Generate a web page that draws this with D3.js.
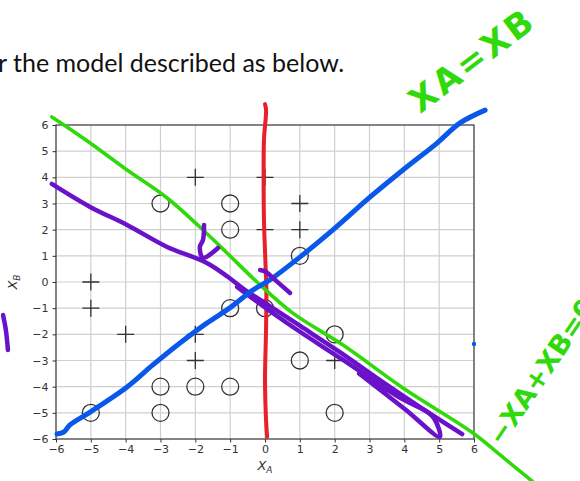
<!DOCTYPE html>
<html>
<head>
<meta charset="utf-8">
<script src="https://cdn.jsdelivr.net/npm/d3@7"></script>
<style>
  html, body { margin: 0; padding: 0; background: #fff; }
  svg { display: block; }
</style>
</head>
<body>
<svg id="chart" width="580" height="481"></svg>
<script>
// ---- data -------------------------------------------------------------
const xTickValues = [-6, -5, -4, -3, -2, -1, 0, 1, 2, 3, 4, 5, 6];
const yTickValues = [-6, -5, -4, -3, -2, -1, 0, 1, 2, 3, 4, 5, 6];

// class "+" samples (x_A, x_B)
const plusPoints = [[-2, 4], [0, 4], [1, 3], [0, 2], [1, 2], [-5, 0], [-5, -1],
                    [-4, -2], [-2, -2], [-2, -3], [2, -3]];
// class "o" samples (x_A, x_B)
const circlePoints = [[-3, 3], [-1, 3], [-1, 2], [1, 1], [-1, -1], [0, -1], [2, -2],
                      [1, -3], [-3, -4], [-2, -4], [-1, -4], [-5, -5], [-3, -5], [2, -5]];

// pen strokes drawn over the plot, in data units
const redStroke = [[0, 6.80], [0.03, 6.57], [-0.03, 5.43], [-0.04, 3.90], [-0.03, 2.37],
                   [0.01, 0.84], [0.04, -0.31], [0.03, -1.83], [0, -3.75], [0.03, -5.27], [0.06, -5.92]];
const greenStroke = [[-6.12, 6.31], [-5.60, 5.85], [-5.02, 5.31], [-3.96, 4.28], [-2.81, 3.21],
                     [-1.87, 2.10], [-1.09, 1.11], [-0.23, 0.00], [0.80, -1.19], [2.24, -2.41],
                     [3.96, -4.05], [5.97, -5.77], [6.75, -6.61], [7.52, -7.45], [8.04, -8.02]];
const blueStroke = [[-5.97, -5.81], [-5.77, -5.73], [-5.60, -5.46], [-5.02, -4.97], [-3.96, -4.01],
                    [-3.22, -3.17], [-2.44, -2.33], [-1.67, -1.57], [-1.01, -0.99], [-0.35, -0.31],
                    [0.14, 0.08], [1.01, 0.96], [1.95, 1.99], [3.02, 3.25], [3.96, 4.28],
                    [4.94, 5.31], [5.60, 6.08], [6.32, 6.57]];
const blueDot = [[6.0, -2.37]];
const purpleStrokeA = [[-6.12, 3.75], [-5.02, 2.87], [-3.96, 2.18], [-2.81, 1.34], [-1.67, 0.73],
                       [-1.06, 0.19], [-0.57, -0.31], [0.14, -0.92], [1.01, -1.68], [2.15, -2.68],
                       [3.30, -3.75], [4.45, -4.78], [5.66, -5.81]];
const purpleStrokeB = [[-0.80, -0.19], [-0.14, -0.84], [0.80, -1.72], [2.24, -2.98], [3.88, -4.43],
                       [4.80, -5.12], [5.02, -5.92], [4.02, -4.86], [2.70, -3.50]];
const purpleHook = [[-1.75, 2.18], [-1.78, 1.61], [-1.87, 1.34], [-1.78, 0.92], [-1.35, 1.30]];
const purpleTick = [[-0.14, 0.46], [0.03, 0.38], [0.29, 0.08], [0.72, -0.42]];
const purpleMargin = [[-7.52, -1.26], [-7.44, -1.83], [-7.38, -2.60]];

// ---- layout -----------------------------------------------------------
const svg = d3.select("#chart");
const plot = { left: 56, right: 474, top: 125, bottom: 439 };

const x = d3.scaleLinear().domain([-6, 6]).range([plot.left, plot.right]);
const y = d3.scaleLinear().domain([-6, 6]).range([plot.bottom, plot.top]);

const fmt = d => d < 0 ? "\u2212" + Math.abs(d) : String(d);
const axisFont = "'DejaVu Sans', sans-serif";

// slide sentence above the figure
const title = svg.append("text")
  .attr("y", 72)
  .attr("font-family", "Lato, 'Open Sans', sans-serif")
  .attr("font-size", 25)
  .attr("fill", "#111")
  .text("for the model described as below.");
const prefixWidth = title.node().getSubStringLength(0, 4);
title.attr("x", 13 - prefixWidth);

// grid
const grid = svg.append("g").attr("stroke", "#cfcfcf").attr("stroke-width", 1.2);
grid.selectAll("line.gx").data(xTickValues).join("line")
  .attr("x1", d => x(d)).attr("x2", d => x(d))
  .attr("y1", plot.top).attr("y2", plot.bottom);
grid.selectAll("line.gy").data(yTickValues).join("line")
  .attr("y1", d => y(d)).attr("y2", d => y(d))
  .attr("x1", plot.left).attr("x2", plot.right);

// axes
const xAxis = svg.append("g")
  .attr("transform", `translate(0,${plot.bottom})`)
  .call(d3.axisBottom(x).tickValues(xTickValues).tickFormat(fmt).tickSize(3.5).tickPadding(3));
const yAxis = svg.append("g")
  .attr("transform", `translate(${plot.left},0)`)
  .call(d3.axisLeft(y).tickValues(yTickValues).tickFormat(fmt).tickSize(3.5).tickPadding(4));
[xAxis, yAxis].forEach(g => {
  g.select(".domain").remove();
  g.selectAll(".tick line").attr("stroke", "#333").attr("stroke-width", 1);
  g.selectAll(".tick text").attr("fill", "#333").attr("font-family", axisFont).attr("font-size", 11);
});

// frame
svg.append("rect")
  .attr("x", plot.left).attr("y", plot.top)
  .attr("width", plot.right - plot.left).attr("height", plot.bottom - plot.top)
  .attr("fill", "none").attr("stroke", "#333").attr("stroke-width", 1.1);

// axis labels: x_A and x_B
const xl = svg.append("text")
  .attr("x", x(0)).attr("y", 470)
  .attr("text-anchor", "middle")
  .attr("font-family", axisFont).attr("font-size", 13).attr("fill", "#333");
xl.append("tspan").attr("font-style", "italic").text("X");
xl.append("tspan").attr("font-style", "italic").attr("font-size", 9).attr("dy", 3).text("A");

const yl = svg.append("text")
  .attr("transform", `translate(17,${y(0)}) rotate(-90)`)
  .attr("text-anchor", "middle")
  .attr("font-family", axisFont).attr("font-size", 13).attr("fill", "#333");
yl.append("tspan").attr("font-style", "italic").text("X");
yl.append("tspan").attr("font-style", "italic").attr("font-size", 9).attr("dy", 3).text("B");

// samples
const marks = svg.append("g").attr("stroke", "#333").attr("stroke-width", 1.3).attr("fill", "none");
marks.selectAll("circle").data(circlePoints).join("circle")
  .attr("cx", d => x(d[0])).attr("cy", d => y(d[1])).attr("r", 8.5);
marks.selectAll("path.plus").data(plusPoints).join("path")
  .attr("class", "plus")
  .attr("d", d => {
    const cx = x(d[0]), cy = y(d[1]), s = 8.5;
    return `M${cx - s},${cy}H${cx + s}M${cx},${cy - s}V${cy + s}`;
  });

// pen strokes
const pen = d3.line().x(d => x(d[0])).y(d => y(d[1])).curve(d3.curveCatmullRom.alpha(0.5));
const ink = svg.append("g").attr("fill", "none")
  .attr("stroke-linecap", "round").attr("stroke-linejoin", "round");

const RED = "#e8202a", GREEN = "#30d90a", BLUE = "#0a58ea", PURPLE = "#6a12c9";

ink.append("path").datum(redStroke).attr("d", pen).attr("stroke", RED).attr("stroke-width", 4);
ink.append("path").datum(purpleStrokeA).attr("d", pen).attr("stroke", PURPLE).attr("stroke-width", 4.5);
ink.append("path").datum(purpleStrokeB).attr("d", pen).attr("stroke", PURPLE).attr("stroke-width", 4.5);
ink.append("path").datum(purpleMargin).attr("d", pen).attr("stroke", PURPLE).attr("stroke-width", 4.5);
ink.append("path").datum(greenStroke).attr("d", pen).attr("stroke", GREEN).attr("stroke-width", 3.6);
ink.append("path").datum(blueStroke).attr("d", pen).attr("stroke", BLUE).attr("stroke-width", 5);
ink.append("path").datum(purpleHook).attr("d", pen).attr("stroke", PURPLE).attr("stroke-width", 4.5);
ink.append("path").datum(purpleTick).attr("d", pen).attr("stroke", PURPLE).attr("stroke-width", 4.5);
ink.selectAll("circle.dot").data(blueDot).join("circle")
  .attr("class", "dot")
  .attr("cx", d => x(d[0])).attr("cy", d => y(d[1])).attr("r", 2.2)
  .attr("fill", BLUE).attr("stroke", "none");

// handwritten notes
svg.append("text")
  .attr("transform", "translate(472,60) rotate(-37)")
  .attr("text-anchor", "middle").attr("dominant-baseline", "central")
  .attr("font-family", "'DejaVu Sans', sans-serif").attr("font-weight", "bold")
  .attr("font-size", 34).attr("letter-spacing", 3)
  .attr("fill", GREEN)
  .text("XA=XB");

svg.append("text")
  .attr("transform", "translate(494,442) rotate(-56)")
  .attr("dominant-baseline", "central")
  .attr("font-family", "'DejaVu Sans', sans-serif").attr("font-weight", "bold")
  .attr("font-size", 27)
  .attr("fill", GREEN)
  .text("\u2212XA+XB=0");
</script>
</body>
</html>
